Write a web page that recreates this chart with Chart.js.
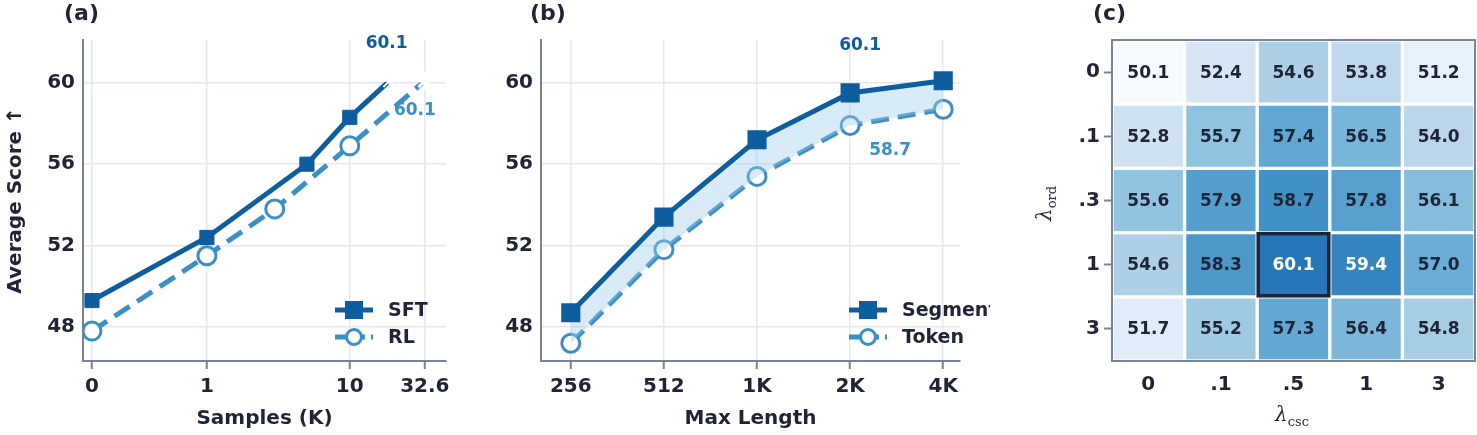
<!DOCTYPE html>
<html><head><meta charset="utf-8">
<script src="https://cdn.jsdelivr.net/npm/chart.js@4.4.0/dist/chart.umd.min.js"></script>
<style>
body{margin:0;background:#fff;width:1477px;height:435px;position:relative;overflow:hidden;font-family:"DejaVu Sans";color:#1f2536}
.p{position:absolute;top:0;height:435px}
canvas{display:block}
.t{position:absolute;font-weight:bold;font-size:22px;top:0}
.lam{position:absolute;font-family:"DejaVu Serif";font-style:italic;font-size:20px;color:#1f2536}
.lam sub{font-style:normal;font-size:13px}
</style></head><body>
<div class="p" style="left:0;width:470px"><canvas id="ca" width="470" height="435"></canvas></div>
<div class="p" style="left:470px;width:520px"><canvas id="cb" width="520" height="435"></canvas></div>
<div class="p" style="left:1030px;width:447px"><canvas id="cc" width="447" height="435"></canvas></div>
<div class="t" style="left:64px">(a)</div>
<div class="t" style="left:530px">(b)</div>
<div class="t" style="left:1093px">(c)</div>
<div class="lam" style="left:1028px;top:190px;transform:rotate(-90deg)">λ<sub>ord</sub></div>
<div class="lam" style="left:1275px;top:402px">λ<sub>csc</sub></div>
<script>
// ---- data ----
const aTickPos = [0, 1, 2.243, 2.896];
const aTickLabels = ['0', '1', '10', '32.6'];
const sftX = [0, 1, 1.87, 2.243, 2.59];
const sftY = [49.3, 52.4, 56.0, 58.3, 60.1];
const rlX = [0, 1, 1.59, 2.243, 2.896];
const rlY = [47.8, 51.5, 53.8, 56.9, 60.1];
const bCats = ['256', '512', '1K', '2K', '4K'];
const segY = [48.7, 53.4, 57.2, 59.5, 60.1];
const tokY = [47.2, 51.8, 55.4, 57.9, 58.7];
const yTicks = [48, 52, 56, 60];
const cCols = ['0', '.1', '.5', '1', '3'];
const cRows = ['0', '.1', '.3', '1', '3'];
const heat = [
  [50.1, 52.4, 54.6, 53.8, 51.2],
  [52.8, 55.7, 57.4, 56.5, 54.0],
  [55.6, 57.9, 58.7, 57.8, 56.1],
  [54.6, 58.3, 60.1, 59.4, 57.0],
  [51.7, 55.2, 57.3, 56.4, 54.8]
];
// ---- style ----
const DARK = '#1f2536', C1 = '#0d5d9f', C2 = '#3a8fc6', GRID = '#e4e7ef', AX = '#7a8296';
const F = {family: 'DejaVu Sans', weight: 'bold', size: 20};
const blues = [[247,251,255],[222,235,247],[198,219,239],[158,202,225],[107,174,214],[66,146,198],[33,113,181],[8,81,156]];
function bl(t){t=Math.max(0,Math.min(1,t))*(blues.length-1);const i=Math.min(Math.floor(t),blues.length-2),f=t-i;const a=blues[i],b=blues[i+1];return `rgb(${a.map((v,k)=>Math.round(v+(b[k]-v)*f)).join(',')})`;}

function legendPlugin(items){return {id:'lg',afterDatasetsDraw(ch){const c=ch.ctx,a=ch.chartArea;c.save();
 items.forEach((it,i)=>{const y=a.bottom-51+i*27,x0=a.right-111;c.strokeStyle=it.c;c.lineWidth=5;c.setLineDash(it.dash||[]);c.beginPath();c.moveTo(x0,y);c.lineTo(x0+38,y);c.stroke();c.setLineDash([]);
 if(it.sq){c.fillStyle=it.c;c.fillRect(x0+10,y-9,18,18);}else{c.fillStyle='#fff';c.lineWidth=3;c.beginPath();c.arc(x0+19,y,7.5,0,7);c.fill();c.stroke();}
 c.fillStyle=DARK;c.font='bold 19px "DejaVu Sans"';c.textBaseline='middle';c.fillText(it.t,x0+53,y+1);});c.restore();}};}
function labelPlugin(list){return {id:'lb',afterDatasetsDraw(ch){const c=ch.ctx;c.save();c.font='bold 17px "DejaVu Sans"';c.textAlign='center';c.textBaseline='middle';
 list.forEach(l=>{const m=ch.getDatasetMeta(l.ds).data[l.i];c.fillStyle=l.c;c.fillText(l.t,m.x+l.dx,m.y+l.dy);});c.restore();}};}

function yScale(w){return {min:46.33,max:62.1,afterBuildTicks(s){s.ticks=yTicks.map(v=>({value:v}));},afterFit(s){s.width=w;},
 ticks:{color:DARK,font:F,padding:8},grid:{color:GRID,lineWidth:1.5,drawTicks:false},border:{color:AX,width:2},
 title:{display:false}};}
const fitX=(s)=>{s.height=74;};

new Chart(document.getElementById('ca'),{type:'line',
 data:{datasets:[
  {data:sftX.map((x,i)=>({x,y:sftY[i]})),borderColor:C1,backgroundColor:C1,borderWidth:5,pointStyle:sftX.map((x,i)=>i==sftX.length-1?'star':'rect'),pointRadius:sftX.map((x,i)=>i==sftX.length-1?9:10),pointBorderColor:sftX.map((x,i)=>i==sftX.length-1?'#fff':C1),pointBorderWidth:sftX.map((x,i)=>i==sftX.length-1?2:1)},
  {data:rlX.map((x,i)=>({x,y:rlY[i]})),borderColor:C2,backgroundColor:'#fff',borderWidth:5,borderDash:[18,9],pointStyle:rlX.map((x,i)=>i==rlX.length-1?'star':'circle'),pointRadius:9,pointBorderWidth:3,pointBackgroundColor:rlX.map((x,i)=>i==rlX.length-1?C2:'#fff'),pointBorderColor:rlX.map((x,i)=>i==rlX.length-1?'#fff':C2)}]},
 options:{animation:false,responsive:false,devicePixelRatio:1,layout:{padding:{left:0,right:24,top:40,bottom:0}},
  plugins:{legend:{display:false},tooltip:{enabled:false}},
  scales:{x:{type:'linear',min:-0.078,max:3.08,afterBuildTicks(s){s.ticks=aTickPos.map(v=>({value:v}));},afterFit:fitX,
    ticks:{color:DARK,font:F,padding:6,callback:(v)=>aTickLabels[aTickPos.indexOf(v)]},grid:{color:GRID,lineWidth:1.5,tickColor:AX,tickLength:8,tickWidth:2},border:{color:AX,width:2},
    title:{display:true,text:'Samples (K)',color:DARK,font:F}},
   y:Object.assign(yScale(83),{title:{display:true,text:'Average Score ↑',color:DARK,font:F,padding:{bottom:8}}})}},
 plugins:[legendPlugin([{t:'SFT',c:C1,sq:1},{t:'RL',c:C2,dash:[12,6]}]),labelPlugin([{ds:0,i:4,t:'60.1',c:C1,dx:-3,dy:-37},{ds:1,i:4,t:'60.1',c:C2,dx:-10,dy:30}])]});

new Chart(document.getElementById('cb'),{type:'line',
 data:{datasets:[
  {data:segY.map((y,i)=>({x:i,y})),borderColor:C1,backgroundColor:'rgba(160,205,235,0.4)',fill:'+1',borderWidth:5,pointStyle:'rect',pointRadius:10,pointBackgroundColor:C1},
  {data:tokY.map((y,i)=>({x:i,y})),borderColor:C2,backgroundColor:'#fff',borderWidth:5,borderDash:[18,9],pointStyle:'circle',pointRadius:9,pointBorderWidth:3}]},
 options:{animation:false,responsive:false,devicePixelRatio:1,layout:{padding:{left:0,right:30,top:40,bottom:0}},
  plugins:{legend:{display:false},tooltip:{enabled:false},filler:{propagate:false}},
  scales:{x:{type:'linear',min:-0.32,max:4.18,afterBuildTicks(s){s.ticks=bCats.map((c,i)=>({value:i}));},afterFit:fitX,
    ticks:{color:DARK,font:F,padding:6,callback:(v)=>bCats[v]},grid:{color:GRID,lineWidth:1.5,tickColor:AX,tickLength:8,tickWidth:2},border:{color:AX,width:2},
    title:{display:true,text:'Max Length',color:DARK,font:F}},
   y:yScale(71)}},
 plugins:[legendPlugin([{t:'Segment',c:C1,sq:1},{t:'Token',c:C2,dash:[12,6]}]),labelPlugin([{ds:0,i:3,t:'60.1',c:C1,dx:10,dy:-47},{ds:1,i:3,t:'58.7',c:C2,dx:40,dy:25}])]});

// heatmap: stacked unit bars, rows from bottom (last row) to top
const vmin=50.1, vmax=61.5;
const hds=[];
for(let r=cRows.length-1;r>=0;r--){
  hds.push({label:cRows[r],data:cCols.map(()=>1),row:r,
   backgroundColor:heat[r].map(v=>bl((v-vmin)/(vmax-vmin)*0.95)),
   borderColor:'#fff',borderWidth:2,borderSkipped:false,barPercentage:1,categoryPercentage:1});
}
new Chart(document.getElementById('cc'),{type:'bar',data:{labels:cCols,datasets:hds},
 options:{animation:false,responsive:false,devicePixelRatio:1,layout:{padding:{left:0,right:2,top:40,bottom:0}},
  plugins:{legend:{display:false},tooltip:{enabled:false}},
  scales:{x:{stacked:true,afterFit:fitX,ticks:{color:DARK,font:F,padding:4},grid:{display:false,tickColor:AX,tickLength:8},border:{color:AX,width:2}},
   y:{stacked:true,min:0,max:5,afterFit(s){s.width=82;},afterBuildTicks(s){s.ticks=cRows.map((c,i)=>({value:4.5-i}));},
    ticks:{color:DARK,font:F,padding:4,callback:(v)=>cRows[Math.round(4.5-v)]},grid:{drawOnChartArea:false,tickColor:AX,tickLength:8,tickWidth:2},border:{color:AX,width:2}}}},
 plugins:[{id:'cells',afterDatasetsDraw(ch){const c=ch.ctx,a=ch.chartArea;c.save();c.textAlign='center';c.textBaseline='middle';c.font='bold 17px "DejaVu Sans"';
  let best=null;
  ch.data.datasets.forEach((ds,di)=>{ch.getDatasetMeta(di).data.forEach((b,ci)=>{const v=heat[ds.row][ci];const p=b.getProps(['x','y','base','width']);
   const cy=(p.y+p.base)/2;c.fillStyle=v>59?'#fff':DARK;c.fillText(v.toFixed(1),p.x,cy+1);
   if(!best||v>best.v)best={v,p};});});
  const p=best.p;c.strokeStyle=DARK;c.lineWidth=3.5;c.strokeRect(p.x-p.width/2+1,p.y+1,p.width-2,p.base-p.y-2);
  c.strokeStyle=AX;c.lineWidth=2;c.strokeRect(a.left,a.top,a.right-a.left,a.bottom-a.top);c.restore();}}]});
</script>
</body></html>
